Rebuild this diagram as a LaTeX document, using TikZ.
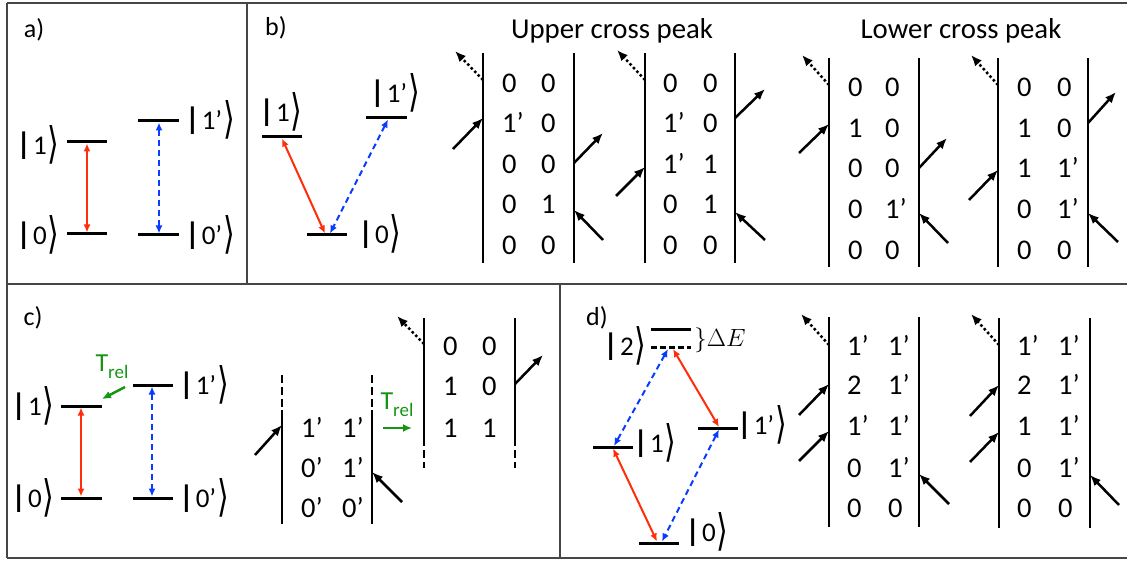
\documentclass[tikz,border=0pt]{standalone}
\usepackage{fontspec}
\usepackage{graphicx}
\setmainfont{Carlito}
\newfontfamily\djv{DejaVu Sans}
\usetikzlibrary{arrows.meta}
\definecolor{myred}{RGB}{255,45,10}
\definecolor{myblue}{RGB}{10,60,255}
\definecolor{mygreen}{RGB}{20,150,20}
\definecolor{frame}{RGB}{70,70,70}
\newcommand{\myket}[1]{{\fontsize{31}{33}\selectfont\textbf{|}}\hspace{2pt}#1\hspace{1pt}\raisebox{-4.3pt}{\scalebox{1}[1.45]{\djv\fontsize{30}{32}\selectfont ⟩}}}
\newcommand{\Trel}{{\fontsize{26}{28}\selectfont T\raisebox{-7pt}{\fontsize{19}{20}\selectfont rel}}}
\begin{document}
\begin{tikzpicture}[x=1pt,y=-1pt,
  framel/.style={line width=1.4pt,draw=frame},
  lvl/.style={line width=3pt},
  lvldash/.style={line width=3pt,dash pattern=on 6pt off 3pt},
  vline/.style={line width=2.8pt},
  vdash/.style={line width=2.8pt,dash pattern=on 8pt off 4pt},
  ph/.style={line width=2.5pt,-{Latex[length=11pt,width=9pt]}},
  phdot/.style={line width=2.5pt,dash pattern=on 2.5pt off 2.5pt,-{Latex[length=11pt,width=9pt]}},
  redarr/.style={draw=myred,line width=2pt,{Latex[length=8pt,width=7pt]}-{Latex[length=8pt,width=7pt]}},
  bluearr/.style={draw=myblue,line width=2pt,dash pattern=on 6pt off 4pt,{Latex[length=8pt,width=7pt]}-{Latex[length=8pt,width=7pt]}},
  greenarr/.style={draw=mygreen,line width=2.5pt,-{Latex[length=9pt,width=8pt]}},
  ketlbl/.style={font=\fontsize{27}{29}\selectfont,inner sep=0pt},
  num/.style={font=\fontsize{28.5}{30}\selectfont,inner sep=0pt,anchor=base west},
  title/.style={font=\fontsize{28.8}{30}\selectfont,inner sep=0pt},
  plabel/.style={font=\fontsize{26}{28}\selectfont,inner sep=0pt},
  trel/.style={text=mygreen,inner sep=0pt}
]
\useasboundingbox (0,0) rectangle (1127,561);
% frames
\draw[framel] (7,3) -- (1127,3);
\draw[framel] (7,284) -- (1127,284);
\draw[framel] (7,558) -- (1127,558);
\draw[framel] (7,3) -- (7,558);
\draw[framel] (247,3) -- (247,284);
\draw[framel] (560,284) -- (560,558);

% ---------------- panel a
\node[plabel] (la) at (34,30) {a)};
\draw[lvl] (67,142) coordinate (a1l) -- (107,142) coordinate (a1r);
\draw[lvl] (67,234) coordinate (a0l) -- (107,234) coordinate (a0r);
\draw[lvl] (138,121) coordinate (a1pl) -- (179,121) coordinate (a1pr);
\draw[lvl] (138,235) coordinate (a0pl) -- (179,235) coordinate (a0pr);
\coordinate (ar1) at (87,143.5); \coordinate (ar0) at (87,232.5);
\coordinate (ab1) at (159,122.5); \coordinate (ab0) at (159,233.5);
\draw[redarr] (ar1) -- (ar0);
\draw[bluearr] (ab1) -- (ab0);
\node[ketlbl] (ka1) at (38,145) {\myket{1}};
\node[ketlbl] (ka0) at (38,235) {\myket{0}};
\node[ketlbl] (ka1p) at (210,120) {\myket{1’}};
\node[ketlbl] (ka0p) at (210,235) {\myket{0’}};

% ---------------- panel b
\node[plabel] (lb) at (276,28) {b)};
\draw[lvl] (262,137) -- (302,137);
\draw[lvl] (366,118) -- (407,118);
\draw[lvl] (307,235) -- (347,235);
\coordinate (br1) at (282,138.5); \coordinate (br0) at (325,233.5);
\coordinate (bb1) at (388,119.5); \coordinate (bb0) at (330,233.5);
\draw[redarr] (br1) -- (br0);
\draw[bluearr] (bb1) -- (bb0);
\node[ketlbl] (kb1) at (281,112) {\myket{1}};
\node[ketlbl] (kb1p) at (395,93) {\myket{1’}};
\node[ketlbl] (kb0) at (380,234) {\myket{0}};

\node[title] (tup) at (612,31) {Upper cross peak};
\node[title] (tlo) at (961,31) {Lower cross peak};

% diagram 1
\draw[vline] (483,53) coordinate (d1lt) -- (483,263);
\draw[vline] (574,53) -- (574,263);
\foreach \y/\a/\b in {93/0/0,133/1’/0,174/0/0,214/0/1,255/0/0}{
  \node[num] at (502,\y) {\a}; \node[num] at (541,\y) {\b};}
\draw[phdot] (483,80) -- (455,51);
\draw[ph] (453,149) -- (483,118);
\draw[ph] (574,163) -- (603,133);
\draw[ph] (603,240) -- (574,210);

% diagram 2
\draw[vline] (645,53) -- (645,263);
\draw[vline] (735,53) -- (735,263);
\foreach \y/\a/\b in {93/0/0,133/1’/0,174/1’/1,214/0/1,255/0/0}{
  \node[num] at (663,\y) {\a}; \node[num] at (703,\y) {\b};}
\draw[phdot] (645,80) -- (617,50);
\draw[ph] (616,196) -- (645,167);
\draw[ph] (735,118) -- (765,89);
\draw[ph] (765,240) -- (735,212);

% diagram 3
\draw[vline] (829,58) -- (829,267);
\draw[vline] (919,58) -- (919,267);
\foreach \y/\a/\b in {97/0/0,138/1/0,178/0/0,219/0/1’,260/0/0}{
  \node[num] at (848,\y) {\a}; \node[num] at (885,\y) {\b};}
\draw[phdot] (829,85) -- (802,55);
\draw[ph] (799,153) -- (829,124);
\draw[ph] (919,168) -- (947,138);
\draw[ph] (948,243) -- (919,213);

% diagram 4
\draw[vline] (998,58) -- (998,267);
\draw[vline] (1088,58) -- (1088,267);
\foreach \y/\a/\b in {97/0/0,138/1/0,178/1/1’,219/0/1’,260/0/0}{
  \node[num] at (1017,\y) {\a}; \node[num] at (1057,\y) {\b};}
\draw[phdot] (998,85) -- (971,55);
\draw[ph] (969,200) -- (998,170);
\draw[ph] (1088,123) -- (1116,92);
\draw[ph] (1118,242) -- (1088,213);

% ---------------- panel c
\node[plabel] (lc) at (33,318) {c)};
\draw[lvl] (61,406) -- (102,406);
\draw[lvl] (61,498) -- (102,498);
\draw[lvl] (133,385) -- (173,385);
\draw[lvl] (133,498) -- (173,498);
\coordinate (cr1) at (81,407.5); \coordinate (cr0) at (81,496.5);
\coordinate (cb1) at (152,386.5); \coordinate (cb0) at (152,496.5);
\draw[redarr] (cr1) -- (cr0);
\draw[bluearr] (cb1) -- (cb0);
\node[ketlbl] (kc1) at (33,406) {\myket{1}};
\node[ketlbl] (kc0) at (33,498) {\myket{0}};
\node[ketlbl] (kc1p) at (204,385) {\myket{1’}};
\node[ketlbl] (kc0p) at (204,498) {\myket{0’}};
\node[trel] (tr1) at (112,367) {\Trel};
\draw[greenarr] (125,387) -- (102,399);

% diagram A
\draw[vdash] (282,375) -- (282,410);
\draw[vline] (282,410) -- (282,524);
\draw[vdash] (372,375) -- (372,410);
\draw[vline] (372,410) -- (372,524);
\foreach \y/\a/\b in {437/1’/1’,477/0’/1’,517/0’/0’}{
  \node[num] at (301,\y) {\a}; \node[num] at (342,\y) {\b};}
\draw[ph] (255,455) -- (282,425);
\draw[ph] (402,502) -- (372,472);
\node[trel] (tr2) at (397,405) {\Trel};
\draw[greenarr] (383,428) -- (412,428);

% diagram B
\draw[vline] (424,318) -- (424,438);
\draw[vdash] (424,438) -- (424,468);
\draw[vline] (515,318) -- (515,438);
\draw[vdash] (515,438) -- (515,468);
\foreach \y/\a/\b in {355/0/0,395/1/0,437/1/1}{
  \node[num] at (443,\y) {\a}; \node[num] at (482,\y) {\b};}
\draw[phdot] (424,344) -- (397,316);
\draw[ph] (515,384) -- (543,355);

% ---------------- panel d
\node[plabel] (ld) at (597,318) {d)};
\draw[lvl] (651,329) -- (691,329);
\draw[lvldash] (651,347) -- (691,347);
\node[font=\fontsize{24}{26}\selectfont,inner sep=0pt] (dE) at (720,340) {$\}\Delta E$};
\draw[lvl] (593,447) -- (633,447);
\draw[lvl] (698,428) -- (738,428);
\draw[lvl] (639,543) -- (679,543);
\node[ketlbl] (kd2) at (625,346) {\myket{2}};
\node[ketlbl] (kd1) at (655,443) {\myket{1}};
\node[ketlbl] (kd1p) at (762,425) {\myket{1’}};
\node[ketlbl] (kd0) at (707,532) {\myket{0}};
\draw[redarr] (673,349) -- (719,427);
\draw[bluearr] (668,349) -- (614,446);
\draw[redarr] (613,448.5) -- (657,541.5);
\draw[bluearr] (719,429.5) -- (662,541.5);

% diagram C
\draw[vline] (829,317) -- (829,527);
\draw[vline] (919,317) -- (919,527);
\foreach \y/\a/\b in {355/1’/1’,394/2/1’,435/1’/1’,477/0/1’,517/0/0}{
  \node[num] at (847,\y) {\a}; \node[num] at (888,\y) {\b};}
\draw[phdot] (829,345) -- (801,314);
\draw[ph] (799,415) -- (829,384);
\draw[ph] (799,461) -- (829,431);
\draw[ph] (949,504) -- (919,474);

% diagram D
\draw[vline] (999,318) -- (999,528);
\draw[vline] (1090,318) -- (1090,528);
\foreach \y/\a/\b in {355/1’/1’,394/2/1’,435/1/1’,477/0/1’,517/0/0}{
  \node[num] at (1017,\y) {\a}; \node[num] at (1058,\y) {\b};}
\draw[phdot] (999,345) -- (971,314);
\draw[ph] (970,416) -- (999,385);
\draw[ph] (970,462) -- (999,432);
\draw[ph] (1119,505) -- (1090,475);
\end{tikzpicture}
\end{document}
